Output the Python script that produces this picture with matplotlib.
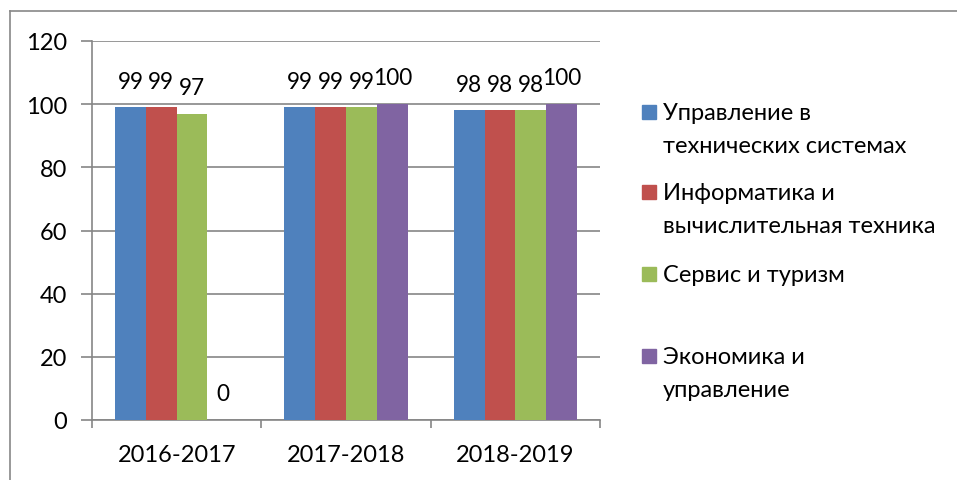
import matplotlib
matplotlib.use("Agg")
import matplotlib.pyplot as plt
from matplotlib.patches import Rectangle
from matplotlib.lines import Line2D
import numpy as np

plt.rcParams['font.family'] = ['Lato', 'DejaVu Sans']

categories = ["2016-2017", "2017-2018", "2018-2019"]
series_names = ["Управление в\nтехнических системах",
                "Информатика и\nвычислительная техника",
                "Сервис и туризм",
                "Экономика и\nуправление"]
values = [
    [99, 99, 98],
    [99, 99, 98],
    [97, 99, 98],
    [0, 100, 100],
]
colors = ["#4F81BD", "#C0504D", "#9BBB59", "#8064A2"]
yticks = [0, 20, 40, 60, 80, 100, 120]

W, H = 957, 481
fig = plt.figure(figsize=(W / 100, H / 100), dpi=100)
ax = fig.add_axes([92 / W, 1 - 421 / H, (600 - 92) / W, (421 - 42) / H])

x = np.arange(len(categories))
bw = 0.182
grid_c = "#868686"
fs = 17
for i, (vals, c) in enumerate(zip(values, colors)):
    pos = x + (i - 1.5) * bw
    ax.bar(pos, vals, width=bw, color=c, zorder=3)
    for p, v in zip(pos, vals):
        ax.text(p, v + 5, str(v), ha="center", va="bottom", fontsize=16.3, zorder=4)

ax.set_xlim(-0.5, 2.5)
ax.set_ylim(0, 120)
ax.set_yticks(yticks)
ax.set_yticklabels([str(t) for t in yticks], fontsize=fs)
ax.yaxis.grid(True, color=grid_c, linewidth=1.2, zorder=0)
ax.set_xticks(x)
ax.set_xticklabels(categories, fontsize=fs)
ax.tick_params(axis="x", length=0, pad=17)
ax.tick_params(axis="y", length=8, color=grid_c, width=1.2, pad=10)
ax.set_xticks([-0.5, 0.5, 1.5, 2.5], minor=True)
ax.tick_params(axis="x", which="minor", length=6, color=grid_c, width=1.2, direction="out")
for s in ["top", "right"]:
    ax.spines[s].set_visible(False)
for s in ["left", "bottom"]:
    ax.spines[s].set_color(grid_c)
    ax.spines[s].set_linewidth(1.2)

# outer chart border (left and top visible)
fig.add_artist(Line2D([10 / W, 10 / W], [0, 1 - 12 / H], color="#888888", lw=1.2))
fig.add_artist(Line2D([10 / W, 1], [1 - 12 / H, 1 - 12 / H], color="#888888", lw=1.2))

# legend drawn manually
legend_y = [113, 193, 275, 357]
for name, c, yy in zip(series_names, colors, legend_y):
    fig.add_artist(Rectangle((642 / W, 1 - (yy + 7) / H), 14 / W, 14 / H,
                             transform=fig.transFigure, color=c))
    fig.text(663 / W, 1 - (yy - 10) / H, name, ha="left", va="top",
             fontsize=fs, linespacing=1.7)

fig.savefig("out.png", dpi=100)
